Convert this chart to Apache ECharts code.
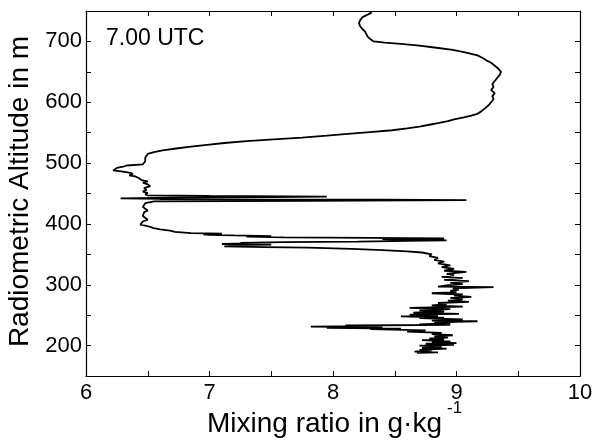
<!DOCTYPE html>
<html>
<head>
<meta charset="utf-8">
<script src="https://cdn.jsdelivr.net/npm/echarts@6/dist/echarts.min.js"></script>
<style>html,body{margin:0;padding:0;background:#fff}#c{width:603px;height:444px}</style>
</head>
<body>
<div id="c"></div>
<script>
// Altitude (m) and mixing ratio (g/kg), read from the profile bottom to top
var altitude = [
188,189,190,192,193,195,196,198,200,201,203,204,206,207,209,210,212,213,215,217,219,221,223,225,227,228,229,230,231,232,233,234,235,237,238,240,241,243,245,246,248,249,251,252,254,256,258,260,262,264,266,268,270,272,274,276,278,280,282,284,286,288,290,292,294,296,297,299,301,303,306,308,311,313,316,318,321,323,326,329,332,335,338,341,344,347,350,353,355,357,359,361,362,363,364,365,366,367,368,369,370,371,372,373,374,375,376,377,378,379,380,381,382,383,384,385,387,389,391,393,395,397,399,401,404,407,410,413,416,419,422,425,428,431,434,436,437,438,439,440,441,442,443,444,445,446,447,449,451,453,456,459,462,465,468,470,472,475,478,480,482,484,486,488,490,492,494,496,498,500,503,506,509,512,515,518,521,524,527,530,533,536,539,542,545,548,551,554,557,560,563,566,569,572,575,578,581,585,590,595,600,605,610,615,620,625,630,635,640,645,650,655,660,665,668,672,677,682,686,690,693,696,698,700,704,708,712,716,720,725,730,735,740,744,747,749
];
var mixingRatio = [
8.68,8.85,8.66,8.80,8.70,8.92,8.72,8.88,8.70,8.98,8.75,9.00,8.80,8.95,8.72,8.90,8.78,8.93,8.82,8.97,8.80,8.88,8.60,8.75,8.30,8.55,7.95,8.40,7.82,8.20,8.10,8.95,8.70,8.95,8.82,9.17,8.80,9.05,8.70,8.90,8.55,8.85,8.62,9.02,8.65,8.90,8.70,8.95,8.62,9.05,8.80,8.92,8.85,9.10,8.93,9.05,8.95,9.12,8.98,9.05,8.80,9.00,8.95,9.02,8.97,9.30,8.85,8.92,9.05,8.95,9.10,8.90,9.05,8.88,8.98,8.92,9.08,8.90,8.98,8.88,8.95,8.85,8.90,8.82,8.85,8.78,8.80,8.72,8.60,8.40,8.15,7.80,7.45,7.12,7.30,7.15,7.50,7.10,7.35,7.25,7.60,8.20,8.60,8.92,8.70,8.40,8.90,8.30,7.60,7.30,7.50,7.20,7.00,6.95,7.10,6.85,6.72,6.68,6.60,6.55,6.52,6.48,6.44,6.44,6.46,6.50,6.49,6.46,6.45,6.47,6.50,6.48,6.46,6.47,6.48,6.52,6.55,7.80,9.08,8.40,6.60,6.28,6.70,7.50,7.95,7.00,6.50,6.48,6.50,6.46,6.49,6.47,6.52,6.50,6.46,6.50,6.45,6.43,6.40,6.35,6.38,6.36,6.30,6.22,6.21,6.25,6.30,6.33,6.46,6.47,6.48,6.47,6.48,6.49,6.50,6.55,6.62,6.73,6.85,6.98,7.12,7.30,7.52,7.75,7.95,8.12,8.30,8.48,8.60,8.70,8.78,8.86,8.93,8.98,9.06,9.12,9.17,9.20,9.23,9.26,9.28,9.30,9.29,9.31,9.28,9.30,9.29,9.31,9.33,9.35,9.36,9.34,9.31,9.28,9.25,9.22,9.17,9.07,8.97,8.82,8.70,8.55,8.42,8.33,8.30,8.28,8.27,8.26,8.24,8.22,8.21,8.22,8.24,8.28,8.31,8.30
];
var xTicks = [6, 7, 8, 9, 10];
var yTicks = [200, 300, 400, 500, 600, 700];
var annotation = '7.00 UTC';
var xTitle = 'Mixing ratio in g·kg';
var xTitleSup = '-1';
var yTitle = 'Radiometric Altitude in m';

var FONT = '"Liberation Sans", Arial, Helvetica, sans-serif';
var profile = altitude.map(function (a, i) { return [mixingRatio[i], a]; });

var chart = echarts.init(document.getElementById('c'), null, {renderer: 'canvas'});
var tickCommon = {show: true, inside: true, length: 5, lineStyle: {color: '#000', width: 1}};
var lineCommon = {show: true, onZero: false, lineStyle: {color: '#000', width: 1.2}};
chart.setOption({
  animation: false,
  backgroundColor: '#fff',
  grid: {left: 86, right: 23, top: 11, bottom: 68, containLabel: false, outerBoundsMode: 'none'},
  xAxis: [{
    type: 'value', min: 6, max: 10, interval: 0.5, position: 'bottom',
    axisLine: lineCommon, axisTick: tickCommon, splitLine: {show: false},
    axisLabel: {
      color: '#000', fontFamily: FONT, fontSize: 22, margin: 6,
      showMinLabel: true, showMaxLabel: true,
      formatter: function (v) { return xTicks.indexOf(v) >= 0 ? String(v) : ''; }
    }
  }, {
    type: 'value', min: 6, max: 10, interval: 0.5, position: 'top',
    axisLine: lineCommon, axisTick: tickCommon, axisLabel: {show: false}, splitLine: {show: false}
  }],
  yAxis: [{
    type: 'value', min: 150, max: 750, interval: 50, position: 'left',
    axisLine: lineCommon, axisTick: tickCommon, splitLine: {show: false},
    axisLabel: {
      color: '#000', fontFamily: FONT, fontSize: 22, margin: 4,
      formatter: function (v) { return yTicks.indexOf(v) >= 0 ? String(v) : ''; }
    },
    name: yTitle, nameLocation: 'middle', nameGap: 50, nameRotate: 90,
    nameTextStyle: {color: '#000', fontFamily: FONT, fontSize: 28, padding: [0, 0, 0, 4]}
  }, {
    type: 'value', min: 150, max: 750, interval: 50, position: 'right',
    axisLine: lineCommon, axisTick: tickCommon, axisLabel: {show: false}, splitLine: {show: false}
  }],
  graphic: [{
    type: 'text', left: 106, top: 27,
    style: {text: annotation, fontFamily: FONT, fontSize: 23, fill: '#000'}
  }, {
    type: 'text', x: 207, y: 424,
    style: {text: xTitle, fontFamily: FONT, fontSize: 28, fill: '#000', align: 'left', verticalAlign: 'middle'}
  }, {
    type: 'text', x: 447, y: 408,
    style: {text: xTitleSup, fontFamily: FONT, fontSize: 17, fill: '#000', align: 'left', verticalAlign: 'middle'}
  }],
  series: [{
    type: 'line', xAxisIndex: 0, yAxisIndex: 0, data: profile,
    showSymbol: false, symbol: 'none', smooth: false,
    lineStyle: {color: '#000', width: 1.8}
  }]
});
</script>
</body>
</html>
